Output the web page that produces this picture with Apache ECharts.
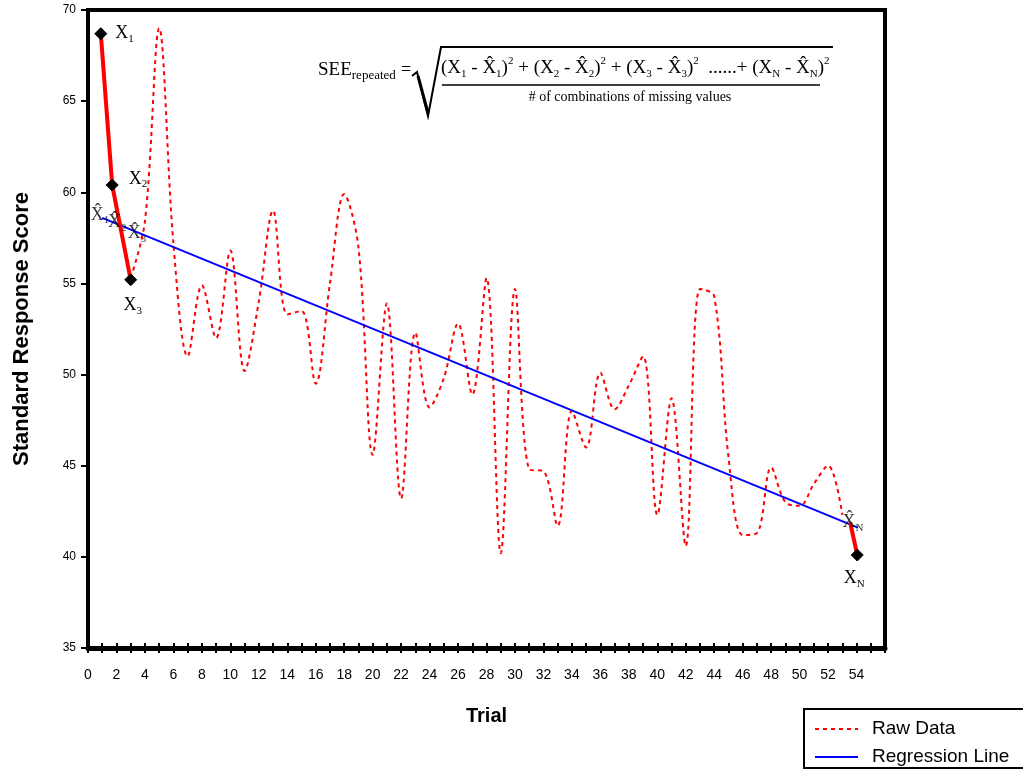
<!DOCTYPE html>
<html>
<head>
<meta charset="utf-8">
<title>Standard Response Score by Trial</title>
<script src="https://cdn.jsdelivr.net/npm/echarts@6/dist/echarts.min.js"></script>
<style>
html, body { margin: 0; padding: 0; background: #fff; }
#main { width: 1023px; height: 770px; }
</style>
</head>
<body>
<div id="main"></div>
<script>
// raw data
var trials = [3, 4, 5, 6, 7, 8, 9, 10, 11, 12, 13, 14, 15, 16, 17, 18, 19, 20, 21, 22, 23, 24, 25, 26, 27, 28,
    29, 30, 31, 32, 33, 34, 35, 36, 37, 38, 39, 40, 41, 42, 43, 44, 45, 46, 47, 48, 49, 50, 51, 52, 53];
var rawScores = [55.3, 58.4, 69.0, 57.2, 51.0, 54.9, 52.0, 56.8, 50.2, 54.0, 59.0, 53.3, 53.5, 49.5, 55.0, 59.9,
    57.0, 45.6, 53.9, 43.2, 52.3, 48.2, 49.8, 52.8, 48.9, 55.3, 40.2, 54.7, 44.8, 44.7, 41.7, 48.0, 46.0, 50.1,
    48.1, 49.4, 51.0, 42.3, 48.7, 40.6, 54.7, 54.3, 45.5, 41.2, 41.3, 44.9, 43.0, 42.8, 44.0, 45.0, 42.3];

// regression line end points
var regTrials = [1.0, 54.1];
var regScores = [58.6, 41.6];

// missing values X1..X3 and the last estimate / value
var startTrials = [0.9, 1.7, 3.0];
var startScores = [68.7, 60.4, 55.2];
var startNames = ['1', '2', '3'];
var endTrials = [53.55, 54.05];
var endScores = [41.9, 40.1];

// where the X-hat marks sit
var hatTrials = [0.85, 2.05, 3.45, 53.75];
var hatScores = [58.75, 58.35, 57.75, 41.9];
var hatNames = ['1', '2', '3', 'N'];

function pairs(xs, ys) {
    var out = [];
    for (var i = 0; i < xs.length; i++) out.push([xs[i], ys[i]]);
    return out;
}

var serif = 'Liberation Serif';
var labelRich = {
    x: { fontFamily: serif, fontSize: 18, color: '#000', lineHeight: 22, verticalAlign: 'middle' },
    s: { fontFamily: serif, fontSize: 11, color: '#000', lineHeight: 11, verticalAlign: 'bottom' }
};

var myChart = echarts.init(document.getElementById('main'));

var startData = pairs(startTrials, startScores).map(function (p, i) {
    var pos = 'right', off = [0, 0];
    if (i === 1) { off = [2, -6]; }
    if (i === 2) { pos = 'bottom'; off = [2, 0]; }
    return {
        value: p,
        label: {
            show: true, position: pos, offset: off, distance: 8,
            formatter: '{x|X}{s|' + startNames[i] + '}', rich: labelRich
        }
    };
});

var endData = pairs(endTrials, endScores).map(function (p, i) {
    if (i === 0) return { value: p, symbol: 'none' };
    return {
        value: p,
        label: {
            show: true, position: 'bottom', distance: 6, offset: [-3, 0],
            formatter: '{x|X}{s|N}', rich: labelRich
        }
    };
});

var hatData = pairs(hatTrials, hatScores).map(function (p, i) {
    return {
        value: p,
        label: { show: true, position: 'inside', formatter: '{x|X̂}{s|' + hatNames[i] + '}', rich: labelRich }
    };
});

var numerator = '{t|(X}{s|1}{t| - X̂}{s|1}{t|)}{p|2}{t| + (X}{s|2}{t| - X̂}{s|2}{t|)}{p|2}{t| + (X}{s|3}{t| - X̂}{s|3}{t|)}{p|2}' +
    '{t|  ......+ (X}{s|N}{t| - X̂}{s|N}{t|)}{p|2}';
var formulaRich = {
    t: { fontFamily: serif, fontSize: 19, fill: '#000', lineHeight: 24, verticalAlign: 'middle' },
    s: { fontFamily: serif, fontSize: 11, fill: '#000', lineHeight: 10, verticalAlign: 'bottom' },
    p: { fontFamily: serif, fontSize: 11, fill: '#000', lineHeight: 10, verticalAlign: 'top' },
    r: { fontFamily: serif, fontSize: 13, fill: '#000', lineHeight: 10, verticalAlign: 'bottom' },
    b: { fontFamily: serif, fontSize: 19, fill: '#000', lineHeight: 24, verticalAlign: 'middle' }
};

var option = {
    backgroundColor: '#fff',
    animation: false,
    grid: {
        left: 88, right: 138, top: 10, bottom: 122,
        show: true, borderColor: '#000', borderWidth: 4
    },
    legend: {
        data: ['Raw Data', 'Regression Line'],
        orient: 'vertical',
        left: 804, top: 709, height: 80,
        padding: [10, 60, 1, 10],
        itemGap: 8,
        itemWidth: 43, itemHeight: 12,
        borderColor: '#000', borderWidth: 2,
        itemStyle: { opacity: 0 },
        textStyle: { fontFamily: 'Liberation Sans', fontSize: 19, color: '#000', padding: [0, 0, 0, 9], lineHeight: 20 }
    },
    xAxis: [{
        type: 'value', min: 0, max: 56, interval: 1,
        name: 'Trial', nameLocation: 'middle', nameGap: 58,
        nameTextStyle: { fontFamily: 'Liberation Sans', fontWeight: 'bold', fontSize: 20, color: '#000' },
        axisLine: { onZero: false, lineStyle: { color: '#000', width: 5 } },
        axisTick: { show: true, length: 5, lineStyle: { color: '#000', width: 2 } },
        axisLabel: {
            margin: 20, color: '#000', fontFamily: 'Liberation Sans', fontSize: 14,
            formatter: function (v) { return (v % 2 === 0 && v <= 54) ? String(v) : ''; }
        },
        splitLine: { show: false }
    }, {
        type: 'value', min: 0, max: 56, interval: 1, position: 'bottom',
        axisLine: { show: false, onZero: false },
        axisTick: { show: true, inside: true, length: 5, lineStyle: { color: '#000', width: 2 } },
        axisLabel: { show: false },
        splitLine: { show: false }
    }],
    yAxis: {
        type: 'value', min: 35, max: 70, interval: 5,
        name: 'Standard Response Score', nameLocation: 'middle', nameGap: 55,
        nameTextStyle: { fontFamily: 'Liberation Sans', fontWeight: 'bold', fontSize: 22, color: '#000' },
        axisLine: { show: true, lineStyle: { color: '#000', width: 4 } },
        axisTick: { show: true, length: 7, lineStyle: { color: '#000', width: 2 } },
        axisLabel: { margin: 12, color: '#000', fontFamily: 'Liberation Sans', fontSize: 12 },
        splitLine: { show: false }
    },
    series: [{
        name: 'Raw Data',
        type: 'line',
        data: pairs(trials, rawScores),
        smooth: 0.35,
        symbol: 'none',
        lineStyle: { color: '#ff0000', width: 2, type: [4, 4] },
        itemStyle: { color: '#ff0000' },
        z: 2
    }, {
        name: 'Regression Line',
        type: 'line',
        data: pairs(regTrials, regScores),
        symbol: 'none',
        lineStyle: { color: '#0000ff', width: 2 },
        itemStyle: { color: '#0000ff' },
        z: 3
    }, {
        name: 'missing',
        type: 'line',
        data: startData,
        symbol: 'diamond', symbolSize: 12,
        showSymbol: true,
        lineStyle: { color: '#ff0000', width: 4 },
        itemStyle: { color: '#000', borderColor: '#000' },
        z: 4
    }, {
        name: 'last',
        type: 'line',
        data: endData,
        symbol: 'diamond', symbolSize: 12,
        showSymbol: true,
        lineStyle: { color: '#ff0000', width: 4 },
        itemStyle: { color: '#000', borderColor: '#000' },
        z: 4
    }, {
        name: 'hat',
        type: 'scatter',
        data: hatData,
        symbolSize: 1,
        itemStyle: { color: 'rgba(0,0,0,0)' },
        z: 5
    }],
    graphic: [{
        type: 'text', x: 318, y: 70,
        style: { text: '{b|SEE}{r|repeated}', rich: formulaRich, verticalAlign: 'middle' }
    }, {
        type: 'text', x: 401, y: 70,
        style: { text: '=', fontFamily: serif, fontSize: 18, fill: '#000', verticalAlign: 'middle' }
    }, {
        type: 'polyline',
        shape: { points: [[412, 76], [417, 72], [428, 116], [441, 47], [833, 47]] },
        style: { stroke: '#000', lineWidth: 2, fill: null }
    }, {
        type: 'line',
        shape: { x1: 418, y1: 76, x2: 428, y2: 113 },
        style: { stroke: '#000', lineWidth: 3 }
    }, {
        type: 'text', x: 441, y: 68,
        style: { text: numerator, rich: formulaRich, verticalAlign: 'middle' }
    }, {
        type: 'line',
        shape: { x1: 442, y1: 85, x2: 820, y2: 85 },
        style: { stroke: '#000', lineWidth: 1.5 }
    }, {
        type: 'text', x: 630, y: 97,
        style: {
            text: '# of combinations of missing values', fontFamily: serif, fontSize: 14, fill: '#000',
            align: 'center', verticalAlign: 'middle'
        }
    }]
};

myChart.setOption(option);
</script>
</body>
</html>
